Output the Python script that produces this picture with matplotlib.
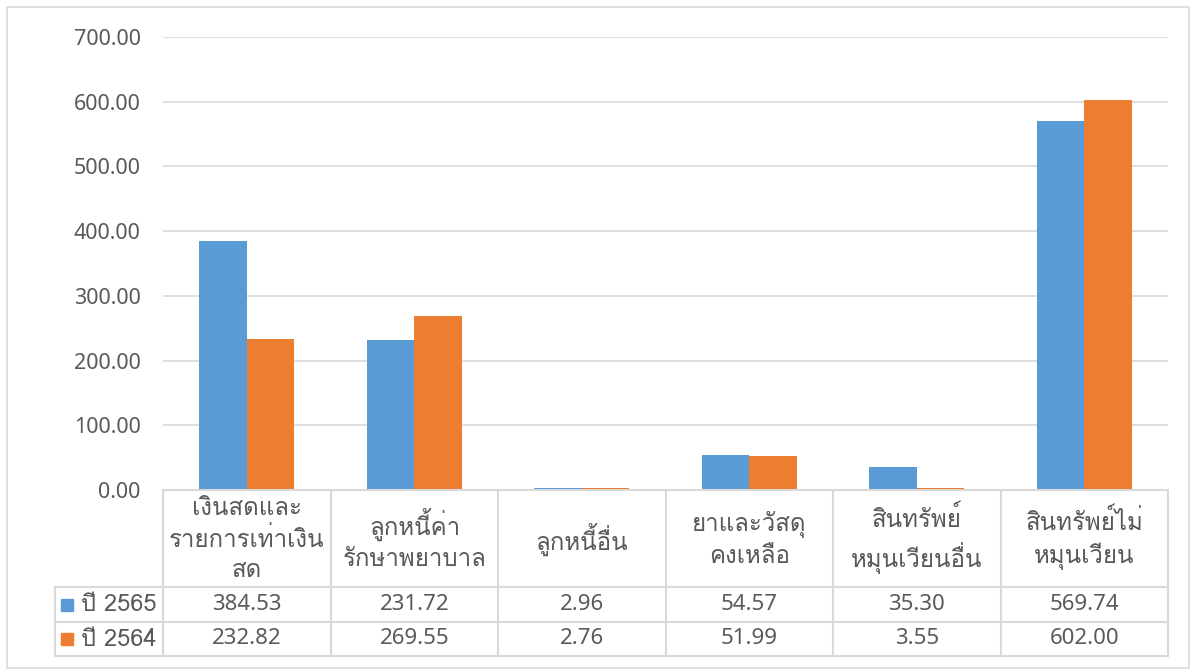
import matplotlib
matplotlib.use("Agg")
import matplotlib.pyplot as plt
from matplotlib.patches import Rectangle
import numpy as np

categories = ["เงินสดและ\nรายการเท่าเงิน\nสด", "ลูกหนี้ค่า\nรักษาพยาบาล", "ลูกหนี้อื่น",
              "ยาและวัสดุ\nคงเหลือ", "สินทรัพย์\nหมุนเวียนอื่น", "สินทรัพย์ไม่\nหมุนเวียน"]
series_names = ["ปี 2565", "ปี 2564"]
values_2565 = [384.53, 231.72, 2.96, 54.57, 35.30, 569.74]
values_2564 = [232.82, 269.55, 2.76, 51.99, 3.55, 602.00]
y_ticks = [0, 100, 200, 300, 400, 500, 600, 700]

colors = ["#5B9BD5", "#ED7D31"]
grid_c = "#d9d9d9"
text_c = "#595959"

# Loma puts tone marks high, so stacked marks (หนี้, อื่น) stay readable
thai_fam = ["Loma", "Noto Sans Thai Looped", "Noto Sans Thai", "DejaVu Sans"]
num_fam = ["Noto Sans Thai", "DejaVu Sans"]
plt.rcParams['font.family'] = num_fam

W, H = 1196, 669
fig = plt.figure(figsize=(W / 100, H / 100), dpi=100)
ax = fig.add_axes([163 / W, 1 - 490 / H, (1168 - 163) / W, (490 - 37) / H])

x = np.arange(len(categories))
bw = 0.284
ax.bar(x - bw / 2, values_2565, bw, color=colors[0], zorder=3)
ax.bar(x + bw / 2, values_2564, bw, color=colors[1], zorder=3)
ax.set_xlim(-0.5, len(categories) - 0.5)
ax.set_ylim(0, 700)
ax.set_yticks(y_ticks)
ax.set_yticklabels([f"{v:.2f}" for v in y_ticks])
ax.tick_params(axis="y", length=0, pad=16, labelsize=15.5, labelcolor=text_c)
ax.set_xticks([])
ax.grid(axis="y", color=grid_c, lw=1.2, zorder=0)
for s in ax.spines.values():
    s.set_visible(False)

# table drawn in pixel coordinates
ov = fig.add_axes([0, 0, 1, 1])
ov.set_xlim(0, W)
ov.set_ylim(H, 0)
ov.axis("off")
ov.patch.set_alpha(0)

ov.add_patch(Rectangle((7, 7), 1182, 661, fill=False, ec=grid_c, lw=1.2))

edges = [ax.transData.transform((i - 0.5, 0))[0] for i in range(len(categories) + 1)]
top, r1, r2, bot = 490, 587, 622, 656
leg_left = 55
for e in edges:
    ov.plot([e, e], [top, bot], color=grid_c, lw=1.5)
ov.plot([leg_left, leg_left], [r1, bot], color=grid_c, lw=1.5)
ov.plot([edges[0], edges[-1]], [top, top], color=grid_c, lw=1.5)
for yy in [r1, r2, bot]:
    ov.plot([leg_left, edges[-1]], [yy, yy], color=grid_c, lw=1.5)

for i, cat in enumerate(categories):
    cx = (edges[i] + edges[i + 1]) / 2
    ov.text(cx, (top + r1) / 2 + 1, cat, ha="center", va="center", fontsize=17.3,
            color=text_c, linespacing=1.38, family=thai_fam)
    ov.text(cx, (r1 + r2) / 2, f"{values_2565[i]:.2f}", ha="center", va="center",
            fontsize=16, color=text_c)
    ov.text(cx, (r2 + bot) / 2, f"{values_2564[i]:.2f}", ha="center", va="center",
            fontsize=16, color=text_c)

for k, (name, yc) in enumerate(zip(series_names, [(r1 + r2) / 2, (r2 + bot) / 2])):
    ov.add_patch(Rectangle((61, yc - 6), 12, 12, color=colors[k]))
    ov.text(81, yc, name, ha="left", va="center", fontsize=17, color=text_c, family=thai_fam)

fig.savefig("out.png", dpi=100)
